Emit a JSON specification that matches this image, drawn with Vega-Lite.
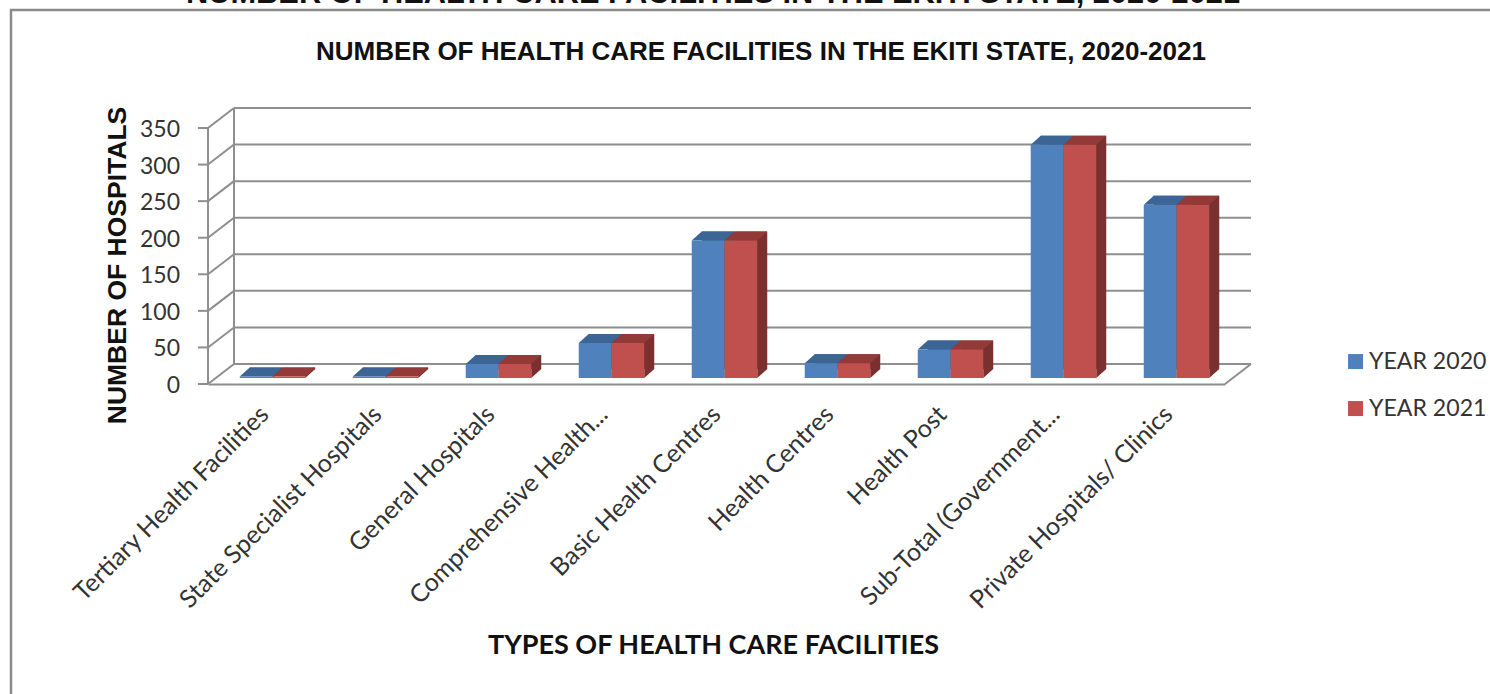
{"$schema":"https://vega.github.io/schema/vega-lite/v6.json","width":1017,"height":256,"autosize":{"type":"none"},"padding":{"left":208,"top":128,"right":265,"bottom":310},"background":"white","view":{"stroke":null},
"datasets":{"bars":[
{"cat":"Tertiary Health Facilities","year":"YEAR 2020","n":2},{"cat":"Tertiary Health Facilities","year":"YEAR 2021","n":2},
{"cat":"State Specialist Hospitals","year":"YEAR 2020","n":2},{"cat":"State Specialist Hospitals","year":"YEAR 2021","n":2},
{"cat":"General Hospitals","year":"YEAR 2020","n":19},{"cat":"General Hospitals","year":"YEAR 2021","n":19},
{"cat":"Comprehensive Health...","year":"YEAR 2020","n":48},{"cat":"Comprehensive Health...","year":"YEAR 2021","n":48},
{"cat":"Basic Health Centres","year":"YEAR 2020","n":188},{"cat":"Basic Health Centres","year":"YEAR 2021","n":188},
{"cat":"Health Centres","year":"YEAR 2020","n":20},{"cat":"Health Centres","year":"YEAR 2021","n":20},
{"cat":"Health Post","year":"YEAR 2020","n":39},{"cat":"Health Post","year":"YEAR 2021","n":39},
{"cat":"Sub-Total  (Government...","year":"YEAR 2020","n":319},{"cat":"Sub-Total  (Government...","year":"YEAR 2021","n":319},
{"cat":"Private Hospitals/ Clinics","year":"YEAR 2020","n":237},{"cat":"Private Hospitals/ Clinics","year":"YEAR 2021","n":237}],
"ticks":[{"t":0},{"t":50},{"t":100},{"t":150},{"t":200},{"t":250},{"t":300},{"t":350}]},
"layer":[
{"data":{"values":[{}]},"mark":{"type":"rect","fill":null,"stroke":"#8C8C8C","strokeWidth":2.5,"clip":false},"encoding":{"x":{"value":-197},"x2":{"value":1300},"y":{"value":-118},"y2":{"value":590}}},
{"data":{"values":[{"s":"NUMBER OF HEALTH CARE FACILITIES IN THE EKITI STATE, 2020-2021"}]},"mark":{"type":"text","font":"Liberation Sans","fontWeight":"bold","fontSize":30.8,"color":"#111111","align":"center","baseline":"alphabetic"},"encoding":{"text":{"field":"s"},"x":{"value":505},"y":{"value":-125}}},
{"data":{"values":[{"s":"NUMBER OF HEALTH CARE FACILITIES IN THE EKITI STATE, 2020-2021"}]},"mark":{"type":"text","font":"Liberation Sans","fontWeight":"bold","fontSize":26,"color":"#111111","align":"center","baseline":"alphabetic"},"encoding":{"text":{"field":"s"},"x":{"value":553},"y":{"value":-68}}},
{"data":{"name":"ticks"},"mark":{"type":"rule","color":"#8E8E8E","strokeWidth":2,"yOffset":-20},"encoding":{"x":{"value":26},"x2":{"value":1043},"y":{"field":"t","type":"quantitative","scale":{"domain":[0,350],"nice":false},"axis":{"labels":false,"ticks":false,"domain":false,"grid":false,"title":"NUMBER OF HOSPITALS","titleFont":"Liberation Sans","titleFontSize":26.5,"titleFontWeight":"bold","titleColor":"#111111","titleX":-83,"titleY":137,"titleAngle":-90,"titleBaseline":"alphabetic"}}}},
{"data":{"name":"ticks"},"mark":{"type":"point","shape":"M0,0L26,-20","filled":false,"size":4,"stroke":"#8E8E8E","strokeWidth":2,"opacity":1},"encoding":{"x":{"value":0},"y":{"field":"t","type":"quantitative"}}},
{"data":{"values":[{"t":0,"u":350}]},"mark":{"type":"rule","color":"#8E8E8E","strokeWidth":2,"yOffset":-20,"y2Offset":-20},"encoding":{"x":{"value":26},"y":{"field":"t","type":"quantitative"},"y2":{"field":"u"}}},
{"data":{"values":[{"t":0}]},"mark":{"type":"point","shape":"M-1,0L1,0L1,-256L-1,-256Z","filled":true,"size":4,"color":"#8E8E8E","strokeWidth":0,"opacity":1},"encoding":{"x":{"value":0},"y":{"field":"t","type":"quantitative"}}},
{"data":{"values":[{"t":0}]},"mark":{"type":"point","shape":"M0,0L26,-20","filled":false,"size":4,"stroke":"#8E8E8E","strokeWidth":2,"opacity":1},"encoding":{"x":{"value":1017},"y":{"field":"t","type":"quantitative"}}},
{"data":{"name":"ticks"},"mark":{"type":"point","shape":"M-10,0L0,0","filled":false,"size":4,"stroke":"#8E8E8E","strokeWidth":2,"opacity":1},"encoding":{"x":{"value":0},"y":{"field":"t","type":"quantitative"}}},
{"data":{"name":"ticks"},"mark":{"type":"text","font":"Lato","fontSize":23,"color":"#333333","align":"right","baseline":"middle","dy":2},"encoding":{"text":{"field":"t","type":"quantitative"},"x":{"value":-28},"y":{"field":"t","type":"quantitative"}}},
{"data":{"name":"bars"},"mark":{"type":"bar","yOffset":-15,"y2Offset":-15},"encoding":{
"x":{"field":"cat","type":"nominal","sort":null,"axis":null,"scale":{"type":"band","paddingInner":0,"paddingOuter":0,"range":[18,1035]}},
"xOffset":{"field":"year","type":"nominal","scale":{"paddingInner":0,"paddingOuter":0.725}},
"y":{"field":"n","type":"quantitative","stack":null},"y2":{"datum":0},
"color":{"field":"year","type":"nominal","legend":null,"scale":{"range":["#335A88","#7A302E"]}}}},
{"data":{"name":"bars"},"mark":{"type":"point","shape":"M24.4,-6L24.4,-15L34.4,-15Z","filled":true,"size":4,"strokeWidth":0,"opacity":1},"encoding":{
"x":{"field":"cat","type":"nominal","sort":null,"axis":null,"scale":{"type":"band","paddingInner":0,"paddingOuter":0}},"xOffset":{"field":"year","type":"nominal","scale":{"type":"band","paddingInner":0,"paddingOuter":0.725}},"y":{"datum":0},
"color":{"field":"year","type":"nominal","legend":null,"scale":{"range":["#335A88","#7A302E"]}}}},
{"data":{"name":"bars"},"mark":{"type":"point","shape":"M-8.4,-6L24.4,-6L34.4,-15L1.6,-15Z","filled":true,"size":4,"strokeWidth":0,"opacity":1},"encoding":{
"x":{"field":"cat","type":"nominal","sort":null,"scale":{"type":"band","paddingInner":0,"paddingOuter":0},"axis":{"ticks":false,"domainColor":"#8E8E8E","domainWidth":2,"labelAngle":-45,"labelAlign":"right","labelBaseline":"middle","labelFont":"Lato","labelFontSize":25,"labelColor":"#333333","labelPadding":26,"labelLimit":400,"labelOverlap":false,"title":"TYPES OF HEALTH CARE FACILITIES","titleFont":"Lato","titleFontSize":27,"titleFontWeight":"bold","titleColor":"#111111","titleX":505,"titleY":269,"titleBaseline":"alphabetic"}},"xOffset":{"field":"year","type":"nominal","scale":{"type":"band","paddingInner":0,"paddingOuter":0.725}},"y":{"field":"n","type":"quantitative"},
"color":{"field":"year","type":"nominal","legend":null,"scale":{"range":["#3C6494","#933A38"]}}}},
{"data":{"name":"bars"},"mark":{"type":"bar","yOffset":-6,"y2Offset":-6},"encoding":{
"x":{"field":"cat","type":"nominal","sort":null,"axis":null,"scale":{"type":"band","paddingInner":0,"paddingOuter":0,"range":[8,1025]}},"xOffset":{"field":"year","type":"nominal","scale":{"paddingInner":0,"paddingOuter":0.725}},"y":{"field":"n","type":"quantitative","stack":null},"y2":{"datum":0},
"color":{"field":"year","type":"nominal","scale":{"range":["#4F81BD","#C0504D"]},"legend":{"orient":"none","legendX":1136,"legendY":222,"title":null,"symbolType":"square","symbolSize":225,"symbolStrokeWidth":0,"labelFont":"Lato","labelFontSize":23.1,"labelColor":"#333333","labelOffset":2,"rowPadding":23,"labelLimit":200}}}}
],
"resolve":{"scale":{"color":"independent","x":"independent","xOffset":"independent"}}}
